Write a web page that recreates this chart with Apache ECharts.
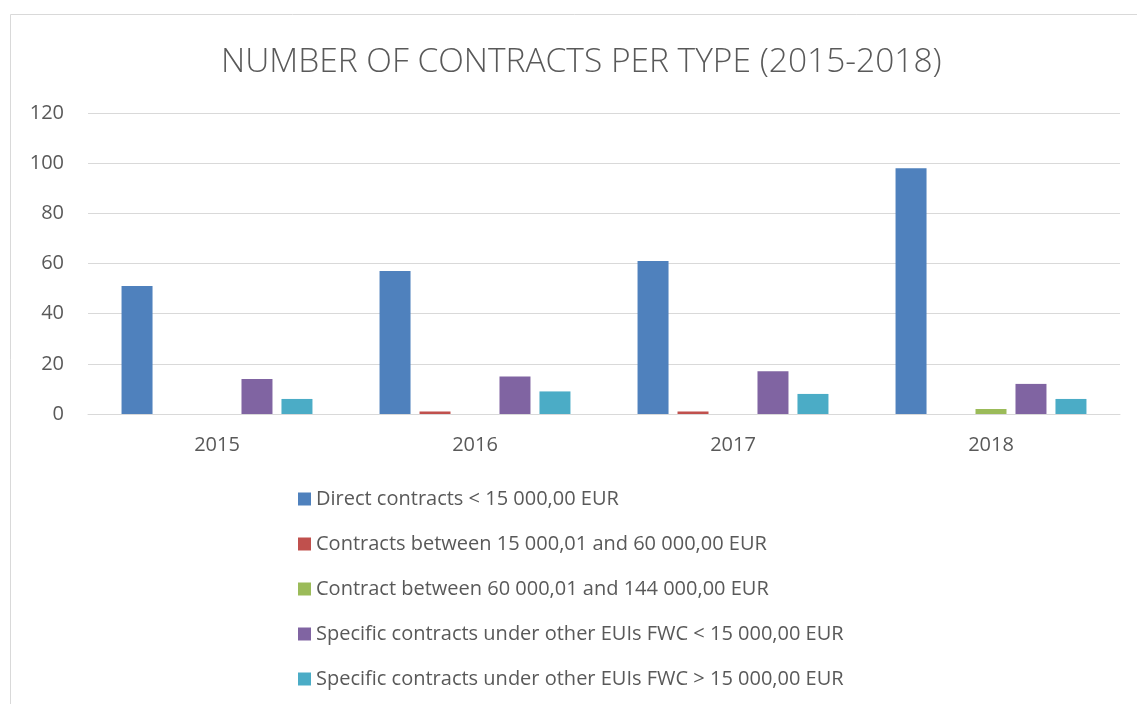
<!DOCTYPE html>
<html lang="en">
<head>
<meta charset="UTF-8" />
<title>Number of contracts per type</title>
<script src="https://cdn.jsdelivr.net/npm/echarts@6/dist/echarts.min.js"></script>
<style>
  html, body { margin: 0; padding: 0; background: #fff; }
  #main { width: 1137px; height: 704px; }
</style>
</head>
<body>
<div id="main"></div>
<script>
// categories and series values
var years = ['2015', '2016', '2017', '2018'];
var seriesNames = [
  'Direct contracts < 15 000,00 EUR',
  'Contracts between 15 000,01 and 60 000,00 EUR',
  'Contract between 60 000,01 and 144 000,00 EUR',
  'Specific contracts under other EUIs FWC < 15 000,00 EUR',
  'Specific contracts under other EUIs FWC > 15 000,00 EUR'
];
var direct = [51, 57, 61, 98];
var between15and60 = [0, 1, 1, 0];
var between60and144 = [0, 0, 0, 2];
var fwcBelow15 = [14, 15, 17, 12];
var fwcAbove15 = [6, 9, 8, 6];
var colors = ['#4f81bd', '#c0504d', '#9bbb59', '#8064a2', '#4bacc6'];

var font = 'Open Sans';
var txt = '#595959';

var myChart = echarts.init(document.getElementById('main'));

var values = [direct, between15and60, between60and144, fwcBelow15, fwcAbove15];
var series = values.map(function (v, i) {
  return {
    name: seriesNames[i],
    type: 'bar',
    data: v,
    itemStyle: { color: colors[i] },
    barGap: '29%',
    barCategoryGap: '26%'
  };
});

myChart.setOption({
  animation: false,
  color: colors,
  title: {
    text: 'NUMBER OF CONTRACTS PER TYPE (2015-2018)',
    left: 216,
    top: 40,
    textStyle: { fontFamily: font, fontWeight: 300, fontSize: 33.5, color: txt }
  },
  graphic: [{
    type: 'rect',
    shape: { x: 10.5, y: 14.5, width: 1140, height: 700 },
    style: { fill: 'none', stroke: '#d9d9d9', lineWidth: 1 },
    silent: true
  }],
  grid: { left: 88, right: 17, top: 113, bottom: 290 },
  legend: {
    orient: 'vertical',
    left: 293,
    top: 484,
    itemWidth: 13,
    itemHeight: 13,
    itemGap: 25,
    icon: 'rect',
    textStyle: { fontFamily: font, fontSize: 20, color: txt },
    data: seriesNames
  },
  xAxis: {
    type: 'category',
    data: years,
    axisLine: { lineStyle: { color: '#d9d9d9', width: 1 } },
    axisTick: { show: false },
    axisLabel: { fontFamily: font, fontSize: 20, color: txt, margin: 21 }
  },
  yAxis: {
    type: 'value',
    min: 0,
    max: 120,
    interval: 20,
    axisLine: { show: false },
    axisTick: { show: false },
    splitLine: { lineStyle: { color: '#d9d9d9', width: 1 } },
    axisLabel: { fontFamily: font, fontSize: 20, color: txt, margin: 24 }
  },
  series: series
});
</script>
</body>
</html>
